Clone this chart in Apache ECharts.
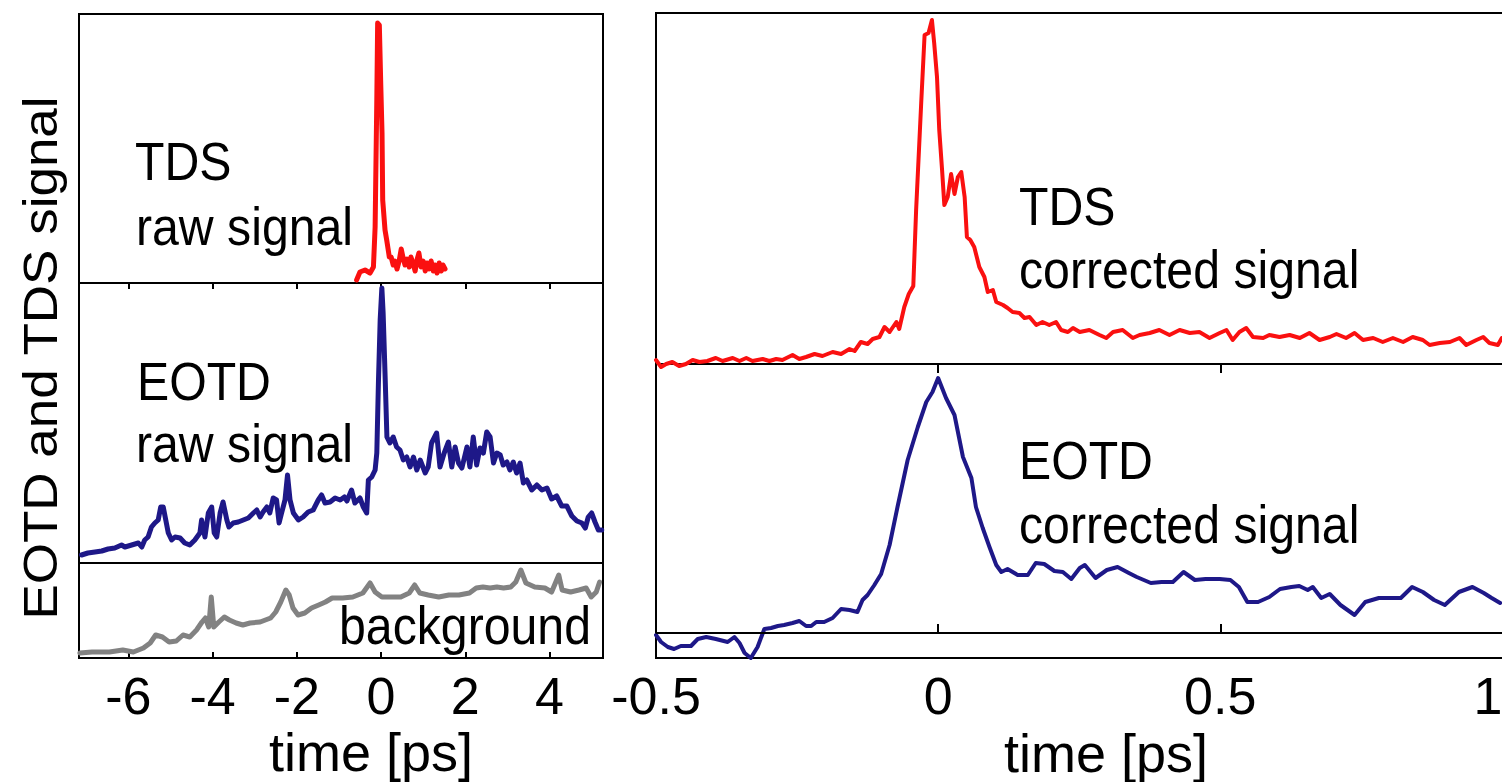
<!DOCTYPE html>
<html>
<head>
<meta charset="utf-8">
<script src="https://cdn.jsdelivr.net/npm/echarts@6/dist/echarts.min.js"></script>
<style>
  html, body { margin: 0; padding: 0; background: #fff; overflow: hidden; }
  #chart { width: 1502px; height: 782px; }
</style>
</head>
<body>
<div id="chart"></div>
<script>
// ---------------- data (time in ps, signal in arbitrary units) ----------------
// Left panel, top: TDS raw signal
const tdsRawT = [-0.58, -0.50, -0.38, -0.26, -0.18, -0.14, -0.10, -0.08, -0.04, -0.007, 0.024, 0.04, 0.095, 0.135, 0.197,
  0.24, 0.29, 0.33, 0.38, 0.43, 0.48, 0.52, 0.57, 0.62, 0.67, 0.71, 0.76, 0.81, 0.86, 0.90, 0.95, 1.00, 1.05, 1.09, 1.14,
  1.19, 1.24, 1.28, 1.33, 1.38, 1.43, 1.47, 1.52];
const tdsRawV = [3, 11, 13, 10, 16, 56, 183, 260, 258, 200, 150, 83, 53, 43, 26,
  26, 18, 22, 14, 22, 34, 26, 18, 24, 16, 26, 20, 12, 24, 30, 16, 22, 12, 20, 14,
  22, 12, 18, 10, 20, 12, 18, 14];

// Left panel, middle: EOTD raw signal
const eotdRawT = [-7.11, -6.96, -6.79, -6.63, -6.48, -6.32, -6.16, -6.08, -5.92, -5.76, -5.68, -5.61, -5.53, -5.45, -5.37,
  -5.29, -5.23, -5.17, -5.11, -5.05, -4.97, -4.89, -4.77, -4.66, -4.54, -4.42, -4.30, -4.26, -4.18, -4.10, -4.02, -3.96,
  -3.90, -3.82, -3.75, -3.66, -3.61, -3.51, -3.39, -3.27, -3.15, -3.03, -2.95, -2.87, -2.80, -2.71, -2.64, -2.56, -2.48,
  -2.42, -2.36, -2.28, -2.22, -2.16, -2.08, -1.96, -1.85, -1.73, -1.61, -1.49, -1.41, -1.33, -1.21, -1.09, -0.97, -0.87,
  -0.81, -0.70, -0.62, -0.50, -0.42, -0.34, -0.30, -0.22, -0.14, -0.10, -0.06, -0.02, 0.02, 0.05, 0.10, 0.14, 0.21, 0.29,
  0.37, 0.45, 0.53, 0.61, 0.69, 0.77, 0.85, 0.93, 1.05, 1.12, 1.20, 1.32, 1.40, 1.50, 1.60, 1.68, 1.76, 1.84, 1.92, 2.04,
  2.11, 2.19, 2.27, 2.35, 2.43, 2.51, 2.59, 2.67, 2.75, 2.83, 2.90, 2.99, 3.06, 3.14, 3.22, 3.30, 3.38, 3.46, 3.58, 3.70,
  3.82, 3.94, 4.05, 4.17, 4.29, 4.41, 4.53, 4.65, 4.77, 4.85, 4.92, 5.00, 5.08, 5.16, 5.24];
const eotdRawV = [8, 10, 11, 12, 14, 15, 18, 16, 18, 20, 16, 23, 26, 36, 40,
  43, 56, 56, 43, 30, 23, 26, 25, 20, 18, 23, 30, 43, 26, 50, 56, 30,
  26, 50, 61, 43, 36, 40, 41, 43, 45, 50, 53, 46, 51, 56, 50, 65, 63,
  40, 50, 63, 88, 63, 50, 43, 46, 51, 53, 63, 68, 60, 61, 65, 63, 66,
  62, 73, 60, 65, 56, 50, 83, 86, 93, 110, 183, 243, 275, 250, 183, 126, 120, 126,
  116, 113, 103, 106, 96, 106, 93, 103, 90, 96, 120, 130, 96, 110, 121, 96, 116, 100, 95, 116,
  96, 126, 98, 115, 110, 131, 126, 100, 110, 108, 98, 101, 93, 101, 90, 100, 80, 83, 73, 78,
  73, 75, 64, 67, 57, 57, 47, 42, 40, 35, 46, 50, 41, 33, 33];

// Left panel, bottom: background
const bgT = [-7.15, -6.86, -6.45, -6.13, -5.88, -5.64, -5.48, -5.35, -5.19, -5.03, -4.86, -4.70, -4.54, -4.38, -4.25,
  -4.17, -4.09, -4.03, -3.97, -3.85, -3.72, -3.60, -3.44, -3.28, -3.11, -2.87, -2.62, -2.50, -2.38, -2.26, -2.18, -2.09,
  -1.97, -1.81, -1.65, -1.48, -1.32, -1.16, -0.91, -0.67, -0.43, -0.26, -0.14, 0.02, 0.23, 0.47, 0.67, 0.80, 0.92, 1.12,
  1.37, 1.61, 1.85, 2.10, 2.26, 2.42, 2.59, 2.75, 2.91, 3.08, 3.20, 3.32, 3.44, 3.65, 3.89, 4.05, 4.22, 4.30, 4.50, 4.70,
  4.87, 4.99, 5.11, 5.19];
const bgV = [5, 6, 6, 8, 6, 10, 15, 23, 21, 16, 17, 23, 21, 28, 36,
  40, 31, 61, 31, 36, 41, 38, 35, 33, 35, 36, 40, 46, 56, 68, 63, 50,
  43, 45, 50, 53, 56, 60, 60, 61, 65, 75, 66, 61, 61, 61, 65, 73, 65, 63,
  61, 63, 63, 65, 70, 71, 70, 71, 70, 71, 76, 88, 75, 71, 70, 66, 83, 68, 66, 68,
  70, 61, 66, 76];

// Right panel, top: TDS corrected signal
const tdsCorT = [-0.500, -0.491, -0.482, -0.471, -0.459, -0.447, -0.435, -0.423, -0.409, -0.394, -0.382, -0.364, -0.352,
  -0.340, -0.329, -0.311, -0.299, -0.287, -0.276, -0.258, -0.246, -0.234, -0.219, -0.205, -0.187, -0.172, -0.157, -0.148,
  -0.137, -0.125, -0.116, -0.104, -0.095, -0.086, -0.074, -0.069, -0.060, -0.052, -0.044, -0.039, -0.030, -0.024, -0.017,
  -0.011, -0.007, -0.002, 0.002, 0.007, 0.011, 0.017, 0.023, 0.029, 0.035, 0.041, 0.047, 0.051, 0.057, 0.064, 0.073,
  0.082, 0.088, 0.097, 0.103, 0.115, 0.123, 0.132, 0.144, 0.153, 0.162, 0.174, 0.185, 0.197, 0.209, 0.218, 0.230, 0.239,
  0.251, 0.268, 0.286, 0.298, 0.310, 0.327, 0.345, 0.357, 0.375, 0.392, 0.410, 0.428, 0.446, 0.463, 0.481, 0.499, 0.511,
  0.522, 0.534, 0.546, 0.558, 0.576, 0.587, 0.605, 0.623, 0.641, 0.658, 0.676, 0.694, 0.706, 0.723, 0.738, 0.753, 0.771,
  0.788, 0.806, 0.824, 0.841, 0.859, 0.871, 0.889, 0.907, 0.924, 0.936, 0.954, 0.966, 0.977, 0.992, 0.999];
const tdsCorV = [4, -3, 0, 2, -2, 0, 4, 2, 3, 6, 3, 6, 3,
  6, 3, 5, 3, 5, 4, 9, 5, 7, 10, 8, 12, 10, 15, 13,
  22, 20, 25, 27, 37, 32, 42, 35, 57, 70, 78, 154, 261, 329, 331,
  344, 321, 287, 234, 194, 159, 167, 190, 170, 187, 192, 167, 127, 124, 117, 97,
  87, 72, 74, 62, 59, 56, 52, 51, 46, 47, 39, 42, 39, 42, 34, 32, 36,
  32, 34, 29, 26, 32, 34, 26, 29, 31, 34, 29, 34, 31, 32, 26, 31, 34,
  24, 32, 36, 27, 26, 29, 27, 29, 26, 31, 24, 27, 30, 26, 31, 24, 26,
  22, 26, 22, 27, 24, 19, 21, 22, 26, 19, 24, 27, 21, 19, 26];

// Right panel, bottom: EOTD corrected signal
const eotdCorT = [-0.500, -0.491, -0.479, -0.468, -0.456, -0.438, -0.426, -0.411, -0.394, -0.373, -0.361, -0.352, -0.343,
  -0.332, -0.320, -0.308, -0.296, -0.284, -0.273, -0.258, -0.246, -0.234, -0.225, -0.216, -0.202, -0.187, -0.172, -0.157,
  -0.143, -0.134, -0.125, -0.113, -0.101, -0.086, -0.072, -0.054, -0.036, -0.021, -0.010, 0.000, 0.014, 0.029, 0.044,
  0.059, 0.067, 0.079, 0.091, 0.103, 0.112, 0.123, 0.141, 0.159, 0.173, 0.188, 0.206, 0.221, 0.236, 0.251, 0.260, 0.279,
  0.299, 0.318, 0.338, 0.352, 0.377, 0.396, 0.416, 0.435, 0.455, 0.474, 0.499, 0.518, 0.533, 0.548, 0.567, 0.587, 0.606,
  0.626, 0.640, 0.655, 0.664, 0.679, 0.694, 0.713, 0.738, 0.757, 0.781, 0.801, 0.820, 0.840, 0.859, 0.879, 0.898, 0.923,
  0.947, 0.967, 0.981, 0.996];
const eotdCorV = [-2, -9, -14, -16, -13, -13, -6, -4, -6, -9, -4, -10, -20,
  -25, -14, 4, 5, 7, 8, 10, 12, 7, 7, 11, 11, 15, 24, 23,
  21, 33, 38, 48, 59, 88, 126, 173, 206, 231, 241, 255, 235, 218, 176,
  155, 126, 105, 86, 68, 61, 64, 58, 58, 70, 69, 62, 61, 54, 65, 68, 55,
  63, 66, 60, 56, 50, 51, 51, 61, 53, 54, 54, 53, 46, 31, 31, 36, 44,
  46, 47, 43, 46, 35, 39, 28, 18, 31, 35, 35, 35, 46, 41, 33, 28, 41,
  46, 40, 35, 30];

// tick labels
const leftTicks = [-6, -4, -2, 0, 2, 4];
const rightTicks = [-0.5, 0, 0.5, 1];
const xTitle = 'time [ps]';
const yTitle = 'EOTD and TDS signal';

// ---------------- chart ----------------
const FONT = '"Liberation Sans", Arial, Helvetica, sans-serif';
const zip = (t, v) => t.map((x, i) => [x, v[i]]);
const RED = '#fa1010', BLUE = '#1e1888', GRAY = '#828282';

function frameGrid(left, top, width, height) {
  return { left, top, width, height, show: true, borderColor: '#000', borderWidth: 2,
           backgroundColor: 'rgba(0,0,0,0)', containLabel: false, outerBoundsMode: 'none' };
}
function xAx(gridIndex, min, max, opts) {
  const o = Object.assign({ position: 'bottom', ticks: null, labels: false, tickLen: 6 }, opts || {});
  return {
    type: 'value', gridIndex, min, max, position: o.position,
    axisLine: { show: false }, splitLine: { show: false },
    axisTick: o.ticks ? { show: true, inside: true, length: o.tickLen, customValues: o.ticks,
                          lineStyle: { color: '#000', width: 2 } } : { show: false },
    axisLabel: o.labels ? Object.assign({ show: true, customValues: o.ticks, color: '#000', fontSize: 52,
                            fontFamily: FONT, margin: 12, hideOverlap: false }, o.labelExtra || {}) : { show: false }
  };
}
function yAx(gridIndex, min, max) {
  return { type: 'value', gridIndex, min, max, show: false, splitLine: { show: false } };
}
function lineSeries(idx, data, color, width) {
  return { type: 'line', xAxisIndex: idx, yAxisIndex: idx, data, showSymbol: false, symbol: 'none',
           clip: false, silent: true, animation: false, lineStyle: { color, width, join: 'round', cap: 'round' } };
}
function label(text, x, y, align, extra) {
  return Object.assign({
    type: 'text', x, y, scaleX: 0.91, silent: true, z: 100,
    style: { text, fill: '#000', font: '53px ' + FONT, textAlign: align, textVerticalAlign: 'middle',
             align: align, verticalAlign: 'middle' }
  }, extra || {});
}
function title(text, x, y) {
  return { type: 'text', x, y, silent: true, z: 100,
           style: { text, fill: '#000', font: '54px ' + FONT, textAlign: 'center', textVerticalAlign: 'middle',
                    align: 'center', verticalAlign: 'middle' } };
}

const chart = echarts.init(document.getElementById('chart'), null, { renderer: 'svg' });
chart.setOption({
  animation: false,
  backgroundColor: '#fff',
  grid: [
    frameGrid(79, 14, 524, 269),
    frameGrid(79, 283, 524, 280),
    frameGrid(79, 563, 524, 95),
    frameGrid(656, 13, 874.6, 351),
    frameGrid(656, 364, 874.6, 294)
  ],
  xAxis: [
    xAx(0, -7.17, 5.27, { position: 'top', ticks: leftTicks }),
    xAx(1, -7.17, 5.27),
    xAx(2, -7.17, 5.27, { position: 'bottom', ticks: leftTicks, labels: true }),
    xAx(3, -0.5, 1.05, { position: 'top', ticks: rightTicks, tickLen: 9 }),
    xAx(4, -0.5, 1.05, { position: 'bottom', ticks: rightTicks, labels: true, tickLen: 9,
                         labelExtra: { alignMaxLabel: 'right' } })
  ],
  yAxis: [yAx(0, 0, 269), yAx(1, 0, 280), yAx(2, 0, 95), yAx(3, 0, 351), yAx(4, -25, 269)],
  series: [
    lineSeries(0, zip(tdsRawT, tdsRawV), RED, 5),
    lineSeries(1, zip(eotdRawT, eotdRawV), BLUE, 5),
    lineSeries(2, zip(bgT, bgV), GRAY, 5),
    lineSeries(3, zip(tdsCorT, tdsCorV), RED, 4),
    Object.assign(lineSeries(4, zip(eotdCorT, eotdCorV), BLUE, 4), {
      markLine: { silent: true, symbol: ['none', 'none'], label: { show: false }, animation: false,
                  lineStyle: { color: '#000', width: 2, type: 'solid' }, data: [{ yAxis: 0 }] }
    })
  ],
  graphic: [
    label('TDS', 135, 161.5, 'left'),
    label('raw signal', 136, 226.5, 'left'),
    label('EOTD', 137, 381.5, 'left'),
    label('raw signal', 136, 443.5, 'left'),
    label('background', 591, 625.5, 'right'),
    label('TDS', 1019, 206.5, 'left'),
    label('corrected signal', 1019, 269.5, 'left'),
    label('EOTD', 1019, 460.5, 'left'),
    label('corrected signal', 1019, 524.5, 'left'),
    title(xTitle, 371, 751.5),
    title(xTitle, 1106, 752.5),
    label(yTitle, 40, 358, 'center', { rotation: Math.PI / 2, scaleX: 1, scaleY: 0.91 })
  ]
});
</script>
</body>
</html>
